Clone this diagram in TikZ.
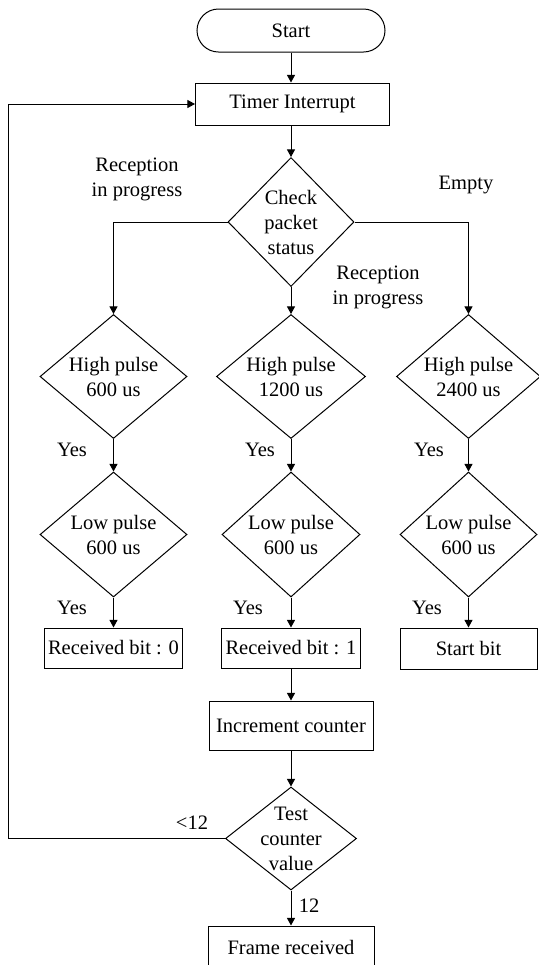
\documentclass[tikz,border=0pt]{standalone}
\usepackage{fontspec}
\setmainfont{Liberation Serif}
\usepackage{tikz}
\usetikzlibrary{arrows.meta,shapes.geometric,shapes.misc}

\tikzset{
  terminal/.style={draw, rounded rectangle, minimum width=94pt, minimum height=21.5pt, inner sep=0pt},
  process/.style={draw, rectangle, minimum height=20pt, inner sep=0pt},
  decision/.style={draw, diamond, align=center, inner sep=-8pt},
  lbl/.style={align=center, inner sep=0pt},
}

\begin{document}
\begin{tikzpicture}[x=0.5pt, y=0.5pt, >={Triangle[length=3.8pt,width=4pt]}, line width=0.5pt,
    every node/.append style={font=\fontsize{10.25}{12.5}\selectfont}]
    \useasboundingbox (0,0) rectangle (539,-965);
    % main column
    \node[terminal] (start) at (291,-30.5) {Start};
    \node[process, minimum width=97pt, minimum height=21pt] (timer) at (292.5,-104) {Timer Interrupt};
    \node[decision, minimum width=63pt, minimum height=64.5pt] (check) at (291,-222) {Check\\packet\\status};
    % three branches
    \node[decision, minimum width=73.5pt, minimum height=62pt] (hi0) at (113.5,-376.5) {High pulse\\600 us};
    \node[decision, minimum width=74.5pt, minimum height=62pt] (hi1) at (291,-376.5) {High pulse\\1200 us};
    \node[decision, minimum width=72pt, minimum height=62pt] (hi2) at (468.5,-376.5) {High pulse\\2400 us};
    \node[decision, minimum width=73.5pt, minimum height=62.5pt] (lo0) at (113.5,-534.5) {Low pulse\\600 us};
    \node[decision, minimum width=69pt, minimum height=62.5pt] (lo1) at (291,-534.5) {Low pulse\\600 us};
    \node[decision, minimum width=68.5pt, minimum height=62.5pt] (lo2) at (468.5,-534.5) {Low pulse\\600 us};
    \node[process, minimum width=69pt] (bit0) at (113.5,-648) {Received bit : 0};
    \node[process, minimum width=69.5pt] (bit1) at (291,-648) {Received bit : 1};
    \node[process, minimum width=68.5pt, minimum height=20.5pt] (startbit) at (468.5,-648.5) {Start bit};
    % counter
    \node[process, minimum width=82pt, minimum height=24.5pt] (incr) at (291,-725.5) {Increment counter};
    \node[decision, minimum width=65.5pt, minimum height=51.5pt] (test) at (291,-838.5) {Test\\counter\\value};
    \node[process, minimum width=83pt, minimum height=21pt] (frame) at (291,-947) {Frame received};
    \coordinate (back) at (8,-838.5);

    % labels
    \node[lbl] (recl) at (137,-179) {Reception\\in progress};
    \node[lbl] (empty) at (466,-185) {Empty};
    \node[lbl] (recm) at (378,-287) {Reception\\in progress};
    \node[lbl] (yes0) at (72,-450) {Yes};
    \node[lbl] (yes1) at (260,-450) {Yes};
    \node[lbl] (yes2) at (429,-450) {Yes};
    \node[lbl] (yes3) at (72,-608) {Yes};
    \node[lbl] (yes4) at (248,-608) {Yes};
    \node[lbl] (yes5) at (427,-608) {Yes};
    \node[lbl] (less) at (192,-823) {\textless12};
    \node[lbl] (twelve) at (309,-906) {12};

    % connectors
    \draw[->] (start.south) -- (start.south |- timer.north);
    \draw[->] (check.north |- timer.south) -- (check.north);
    \draw[->] (check.west) -| (hi0.north);
    \draw[->] (check.south) -- (hi1.north);
    \draw[->] (check.east) -| (hi2.north);
    \draw[->] (hi0.south) -- (lo0.north);
    \draw[->] (hi1.south) -- (lo1.north);
    \draw[->] (hi2.south) -- (lo2.north);
    \draw[->] (lo0.south) -- (bit0.north);
    \draw[->] (lo1.south) -- (bit1.north);
    \draw[->] (lo2.south) -- (startbit.north);
    \draw[->] (bit1.south) -- (incr.north);
    \draw[->] (incr.south) -- (test.north);
    \draw[->] (test.south) -- (frame.north);
    \draw[->] (test.west) -- (back) |- (timer.west);
\end{tikzpicture}
\end{document}
